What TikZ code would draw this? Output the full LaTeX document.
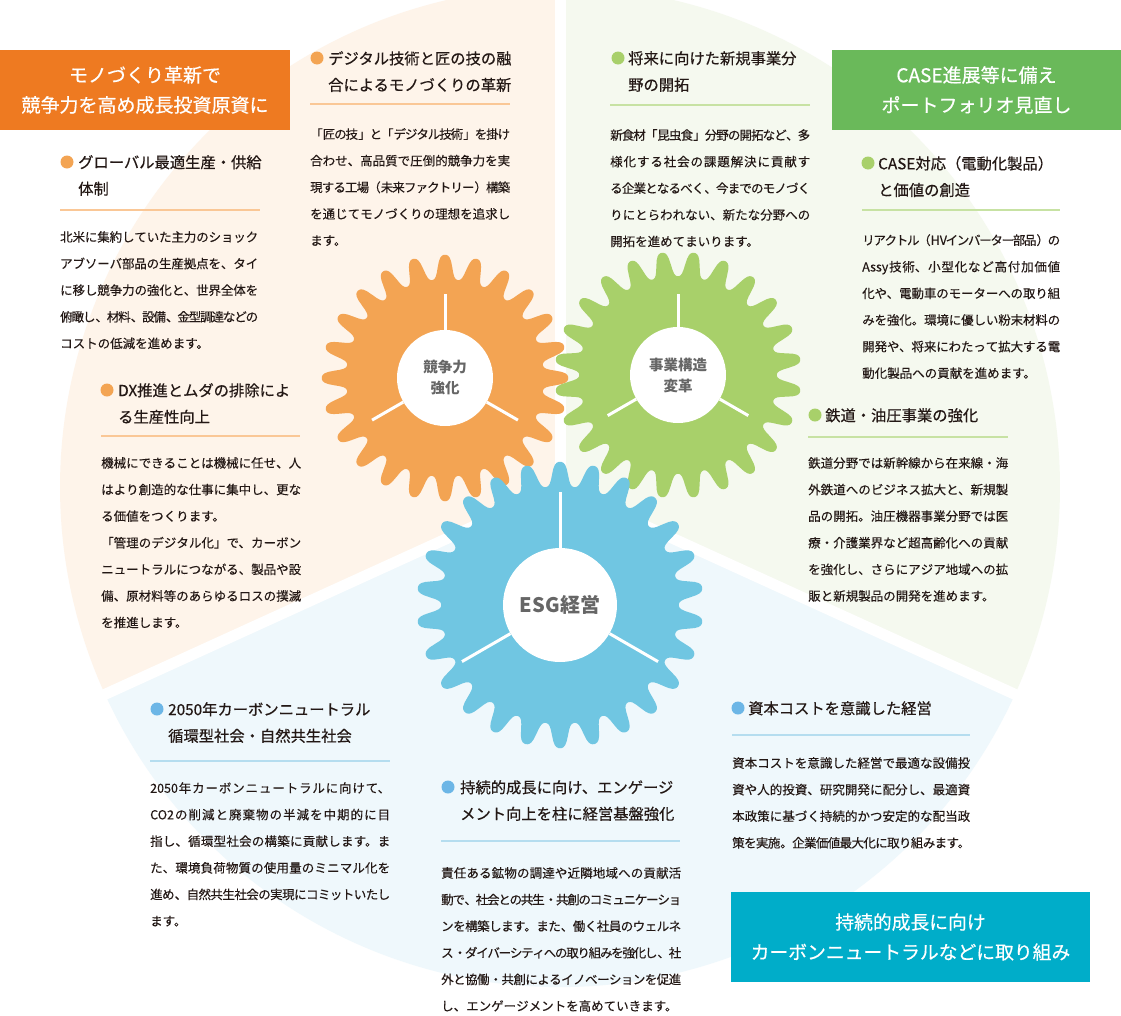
\documentclass[tikz,border=0pt]{standalone}
\usepackage{fontspec}
\setmainfont{Noto Sans CJK JP}
\newfontfamily\headfont[FakeBold=0.5]{Noto Sans CJK JP}
\newfontfamily\bodyfont[FakeBold=0.2]{Noto Sans CJK JP}
\usetikzlibrary{positioning}
\XeTeXlinebreaklocale "ja"
\XeTeXlinebreakskip=0pt plus 3pt minus 3pt
\setlength{\parindent}{0pt}

\definecolor{orgsec}{HTML}{FEF4EA}
\definecolor{grnsec}{HTML}{F5F9EF}
\definecolor{blusec}{HTML}{EFF8FC}
\definecolor{orggear}{HTML}{F3A453}
\definecolor{grngear}{HTML}{A8D06A}
\definecolor{blugear}{HTML}{70C6E2}
\definecolor{orgbox}{HTML}{EE7A21}
\definecolor{grnbox}{HTML}{6AB95A}
\definecolor{cynbox}{HTML}{00ADC9}
\definecolor{bludot}{HTML}{6CB6E6}
\definecolor{orgline}{HTML}{FAC796}
\definecolor{grnline}{HTML}{C7E2A3}
\definecolor{bluline}{HTML}{B5DDEF}
\definecolor{inkgray}{HTML}{231815}
\definecolor{hubgray}{HTML}{666666}

\begin{document}
\begin{tikzpicture}[
        x=1pt, y=-1pt,
        titlebox/.style={
            fill=#1,
            text=white,
            align=center,
            inner sep=0pt,
            font=\headfont\fontsize{19}{30}\selectfont
        },
        bdot/.style={
            circle,
            fill=#1,
            minimum size=13pt,
            inner sep=0pt
        },
        head/.style={
            anchor=north west,
            inner sep=0pt,
            align=left,
            text=inkgray,
            font=\headfont\fontsize{15.3}{26.5}\selectfont
        },
        body/.style={
            anchor=north west,
            inner sep=0pt,
            text width=#1,
            align=justify,
            text=inkgray,
            font=\bodyfont\fontsize{12.5}{26.6}\selectfont
        },
        sepline/.style={
            draw=#1,
            line width=1.4pt
        },
        hub/.style={
            circle,
            fill=white,
            inner sep=0pt,
            minimum size=#1,
            align=center,
            text=hubgray,
            font=\bfseries\fontsize{14.5}{21}\selectfont
        },
        spoke/.style={
            white,
            line width=3pt
        }
    ]

    % Page and background sectors
    \clip (0,0) rectangle (1121,1015);
    \fill[white] (0,0) rectangle (1121,1015);
    \fill[orgsec] (560,487) -- +(155.5:500)
        arc[start angle=155.5, end angle=270, radius=500] -- cycle;
    \fill[grnsec] (560,487) -- +(270:500)
        arc[start angle=270, end angle=384.5, radius=500] -- cycle;
    \fill[blusec] (560,487) -- +(24.5:500)
        arc[start angle=24.5, end angle=155.5, radius=500] -- cycle;
    \foreach \a in {24.5,155.5,270}
        \draw[white, line width=11pt] (560,487) -- +(\a:520);

    % Title boxes
    \node[titlebox=orgbox, minimum width=290pt, minimum height=80pt] (tcomp)
        at (145,90) {モノづくり革新で\\競争力を高め成長投資原資に};
    \node[titlebox=grnbox, minimum width=289pt, minimum height=80pt] (tbiz)
        at (976.5,90) {CASE進展等に備え\\ポートフォリオ見直し};
    \node[titlebox=cynbox, minimum width=359pt, minimum height=90pt,
        font=\headfont\fontsize{18.8}{30}\selectfont] (tesg)
        at (910.5,937) {持続的成長に向け\\カーボンニュートラルなどに取り組み};

    % Gears
    \fill[orggear, shift={(445,378)}] plot[domain=0:360, samples=481]
        (\x:{111+15.5*cos(24*(\x-270))/sqrt(cos(24*(\x-270))^2+0.6)}) -- cycle;
    \fill[grngear, shift={(678,375)}] plot[domain=0:360, samples=481]
        (\x:{111+15.5*cos(24*(\x-277.5))/sqrt(cos(24*(\x-277.5))^2+0.6)}) -- cycle;
    \fill[blugear, shift={(560,605)}] plot[domain=0:360, samples=521]
        (\x:{131+15.5*cos(26*(\x-270))/sqrt(cos(26*(\x-270))^2+0.6)}) -- cycle;

    % Hubs
    \node[hub=96pt] (hubcomp) at (445,378) {競争力\\強化};
    \node[hub=96pt] (hubbiz) at (678,375) {事業構造\\変革};
    \node[hub=114pt, font=\bfseries\fontsize{20}{24}\selectfont] (hubesg)
        at (560,605) {ESG経営};
    \foreach \a in {90,210,330} {
        \draw[spoke] (hubcomp.\a) -- ++(\a:36pt);
        \draw[spoke] (hubbiz.\a) -- ++(\a:33pt);
        \draw[spoke] (hubesg.\a) -- ++(\a:56pt);
    }

    % Global production
    \node[head] (hglobal) at (78,155) {グローバル最適生産・供給\\体制};
    \node[bdot=orggear] (dglobal) at ([xshift=-11pt,yshift=-7pt]hglobal.north west) {};
    \draw[sepline=orgline] (60,210) -- (260,210);
    \node[body=198pt] (bglobal) at (60,231) {北米に集約していた主力のショック\linebreak
        アブソーバ部品の生産拠点を、タイ\linebreak
        に移し競争力の強化と、世界全体を\linebreak
        俯瞰し、材料、設備、金型調達などの\linebreak
        コストの低減を進めます。};

    % Digital craft
    \node[head] (hdigital) at (328,51) {デジタル技術と匠の技の融\\合によるモノづくりの革新};
    \node[bdot=orggear] (ddigital) at ([xshift=-11pt,yshift=-7pt]hdigital.north west) {};
    \draw[sepline=orgline] (310,104) -- (510,104);
    \node[body=200pt] (bdigital) at (310,128) {「匠の技」と「デジタル技術」を掛け\linebreak
        合わせ、高品質で圧倒的競争力を実\linebreak
        現する工場（未来ファクトリー）構築\linebreak
        を通じてモノづくりの理想を追求し\linebreak
        ます。};

    % New business
    \node[head] (hfuture) at (628,51) {将来に向けた新規事業分\\野の開拓};
    \node[bdot=grngear] (dfuture) at ([xshift=-10pt,yshift=-7pt]hfuture.north west) {};
    \draw[sepline=grnline] (610,105) -- (810,105);
    \node[body=200pt] (bfuture) at (610,129) {新食材「昆虫食」分野の開拓など、多\linebreak
        様化する社会の課題解決に貢献す\linebreak
        る企業となるべく、今までのモノづく\linebreak
        りにとらわれない、新たな分野への\linebreak
        開拓を進めてまいります。};

    % CASE
    \node[head] (hcase) at (878,156) {CASE対応（電動化製品）\\と価値の創造};
    \node[bdot=grngear] (dcase) at ([xshift=-10pt,yshift=-7pt]hcase.north west) {};
    \draw[sepline=grnline] (862,210) -- (1060,210);
    \node[body=198pt] (bcase) at (862,234) {リアクトル（HVインバーター部品）の\linebreak
        Assy技術、小型化など高付加価値\linebreak
        化や、電動車のモーターへの取り組\linebreak
        みを強化。環境に優しい粉末材料の\linebreak
        開発や、将来にわたって拡大する電\linebreak
        動化製品への貢献を進めます。};

    % DX
    \node[head] (hdx) at (118,383) {DX推進とムダの排除によ\\る生産性向上};
    \node[bdot=orggear] (ddx) at ([xshift=-11pt,yshift=-7pt]hdx.north west) {};
    \draw[sepline=orgline] (101,436) -- (300,436);
    \node[body=200pt] (bdx) at (101,457) {機械にできることは機械に任せ、人\linebreak
        はより創造的な仕事に集中し、更な\linebreak
        る価値をつくります。\\
        「管理のデジタル化」で、カーボン\linebreak
        ニュートラルにつながる、製品や設\linebreak
        備、原材料等のあらゆるロスの撲滅\linebreak
        を推進します。};

    % Railway and hydraulics
    \node[head] (hrail) at (825,408) {鉄道・油圧事業の強化};
    \node[bdot=grngear] (drail) at ([xshift=-10pt,yshift=-7pt]hrail.north west) {};
    \draw[sepline=grnline] (808,437) -- (1008,437);
    \node[body=200pt] (brail) at (808,457) {鉄道分野では新幹線から在来線・海\linebreak
        外鉄道へのビジネス拡大と、新規製\linebreak
        品の開拓。油圧機器事業分野では医\linebreak
        療・介護業界など超高齢化への貢献\linebreak
        を強化し、さらにアジア地域への拡\linebreak
        販と新規製品の開発を進めます。};

    % Carbon neutral
    \node[head] (hcarbon) at (168,702) {2050年カーボンニュートラル\\循環型社会・自然共生社会};
    \node[bdot=bludot] (dcarbon) at ([xshift=-11pt,yshift=-7pt]hcarbon.north west) {};
    \draw[sepline=bluline] (150,761) -- (390,761);
    \node[body=240pt] (bcarbon) at (150,782) {2050年カーボンニュートラルに向けて、\linebreak
        CO2の削減と廃棄物の半減を中期的に目\linebreak
        指し、循環型社会の構築に貢献します。ま\linebreak
        た、環境負荷物質の使用量のミニマル化を\linebreak
        進め、自然共生社会の実現にコミットいたし\linebreak
        ます。};

    % Engagement
    \node[head] (hengage) at (460,780) {持続的成長に向け、エンゲージ\\メント向上を柱に経営基盤強化};
    \node[bdot=bludot] (dengage) at ([xshift=-12pt,yshift=-7pt]hengage.north west) {};
    \draw[sepline=bluline] (441,841) -- (680,841);
    \node[body=240pt] (bengage) at (441,867) {責任ある鉱物の調達や近隣地域への貢献活\linebreak
        動で、社会との共生・共創のコミュニケーショ\linebreak
        ンを構築します。また、働く社員のウェルネ\linebreak
        ス・ダイバーシティへの取り組みを強化し、社\linebreak
        外と協働・共創によるイノベーションを促進\linebreak
        し、エンゲージメントを高めていきます。};

    % Cost of capital
    \node[head] (hcapital) at (748,701) {資本コストを意識した経営};
    \node[bdot=bludot] (dcapital) at ([xshift=-10pt,yshift=-7pt]hcapital.north west) {};
    \draw[sepline=bluline] (732,735) -- (970,735);
    \node[body=238pt] (bcapital) at (732,757) {資本コストを意識した経営で最適な設備投\linebreak
        資や人的投資、研究開発に配分し、最適資\linebreak
        本政策に基づく持続的かつ安定的な配当政\linebreak
        策を実施。企業価値最大化に取り組みます。};

\end{tikzpicture}
\end{document}
